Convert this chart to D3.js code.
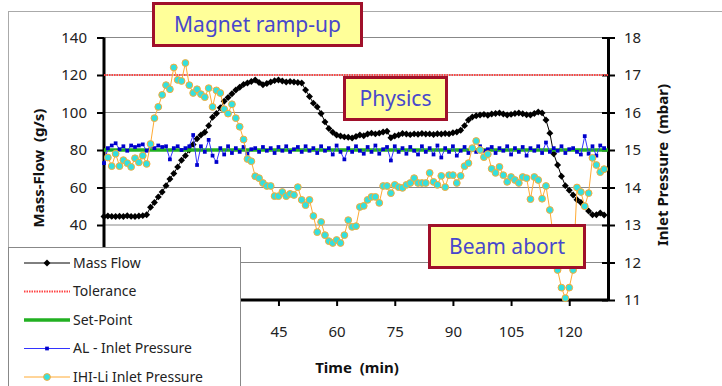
<!DOCTYPE html>
<html>
<head>
<meta charset="utf-8">
<script src="https://cdn.jsdelivr.net/npm/d3@7"></script>
<style>
  body { margin: 0; background: #fff; }
  text { font-family: "Comic Sans MS", "Noto Sans", sans-serif; }
</style>
</head>
<body>
<div class="canvas"></div>
<script>
// time in minutes (category axis)
const minutes = [0,1,2,3,4,5,6,7,8,9,10,11,12,13,14,15,16,17,18,19,20,21,22,23,24,25,26,27,28,29,
  30,31,32,33,34,35,36,37,38,39,40,41,42,43,44,45,46,47,48,49,50,51,52,53,54,55,56,57,58,59,
  60,61,62,63,64,65,66,67,68,69,70,71,72,73,74,75,76,77,78,79,80,81,82,83,84,85,86,87,88,89,
  90,91,92,93,94,95,96,97,98,99,100,101,102,103,104,105,106,107,108,109,110,111,112,113,114,115,116,117,118,119,
  120,121,122,123,124,125,126,127,128,129];

// Mass Flow (g/s) - left axis
const massFlow = [44.5,44.8,44.6,44.5,44.7,44.5,44.9,44.6,44.5,44.8,
  45.0,45.5,49.5,52,55,57.6,61,64.5,67.5,71,
  74.5,77,80,83,86,88,89.5,93,97.5,99.5,
  102.5,106,108,110,112,113.5,115,115.7,116.5,117.3,
  116,114.8,115.5,116.3,117,117.3,116.8,116.3,116.5,116.3,
  116,115.7,112,108.5,105,103,99.5,95,91.5,89.5,
  88,87.5,87,86.8,86.4,87.2,88,87.6,88.5,89,
  88.6,89,89.6,90,86.5,87.5,88,88.8,88.5,88.2,
  88.6,88.4,88.8,88.5,88.6,88.3,88.7,88.5,88.8,88.6,
  89.2,89.6,90.5,93,96,97.6,98.3,98.7,99,98.5,
  99.2,99.5,99.7,99.2,98.7,99,99.5,99.7,99.3,98.8,
  98.7,99.5,100.3,99.8,96,89,78,72,66,61,
  58.5,56,53.5,52,50,47.5,45.5,45.5,46.4,45.3];

// constant reference levels (g/s)
const tolerance = 120;
const setPoint = 80;

// AL - Inlet Pressure (mbar) - right axis
const alPressure = [14.65,15.05,15.12,15.18,15.02,15.1,14.98,15.12,15.08,15.12,
  15.15,14.98,15.1,15.05,15.12,15.08,15.1,14.75,15.05,15.1,
  15.0,15.05,15.1,15.4,14.6,15.1,14.95,15.27,14.85,14.68,
  15.05,14.88,15.1,14.92,15.05,14.95,15.08,14.9,15.02,15.05,
  14.95,15.08,14.98,15.05,14.92,15.08,14.98,15.1,14.95,15.02,
  15.08,14.95,15.1,14.98,15.05,14.92,15.1,14.98,15.05,14.88,
  15.12,14.95,14.75,15.05,14.95,15.1,14.98,14.9,15.08,14.95,
  15.12,14.9,15.02,15.08,14.72,15.1,14.95,15.05,14.9,15.08,
  14.98,14.88,15.1,14.95,15.05,14.88,15.12,14.8,15.05,14.95,
  15.1,14.85,14.98,15.08,14.92,15.05,14.95,15.1,14.98,15.02,
  15.08,14.92,15.05,14.98,15.1,14.88,15.05,14.95,15.08,14.85,
  15.05,14.98,15.1,14.92,15.2,14.95,15.05,14.98,15.1,14.92,
  15.02,15.05,14.95,14.88,15.37,14.9,15.1,14.85,15.12,15.05];

// IHI-Li Inlet Pressure (mbar) - right axis
const ihiPressure = [null,14.8,14.57,14.9,14.57,14.73,14.65,14.55,14.78,14.67,
  14.85,14.63,15.16,15.85,16.15,16.47,16.73,16.62,17.2,16.87,
  16.84,17.32,16.73,16.52,16.62,16.49,16.41,16.65,16.15,16.59,
  16.52,16.09,15.97,16.22,15.85,15.62,15.28,14.76,14.7,14.3,
  14.25,14.12,14.04,14.04,13.77,13.77,13.88,13.77,13.83,13.8,
  14.01,13.67,13.53,13.67,13.24,12.81,13.08,12.73,12.57,12.52,
  12.6,12.52,12.73,13.13,12.95,12.97,13.48,13.51,13.67,13.75,
  13.75,13.59,14.04,14.04,13.85,14.07,14.01,13.99,14.07,14.12,
  14.25,14.12,14.12,14.12,14.39,14.15,14.07,14.31,14.01,14.33,
  14.33,14.12,14.31,14.57,14.65,15.05,15.24,15.0,14.81,14.89,
  14.5,14.39,14.55,14.33,14.15,14.28,14.2,14.12,14.28,14.25,
  13.69,14.28,14.2,13.7,14.04,13.4,12.6,11.8,11.33,11.05,
  11.33,11.8,14.0,13.88,13.5,13.85,14.79,14.6,14.41,14.49];

// ticks that are not covered by the legend
const leftTicks = [40,60,80,100,120,140];
const gridTicks = [20,40,60,80,100,120,140];
const rightTicks = [11,12,13,14,15,16,17,18];
const timeTicks = [45,60,75,90,105,120];

const legendItems = ['Mass Flow','Tolerance','Set-Point','AL - Inlet Pressure','IHI-Li Inlet Pressure'];
const notes = [
  {text: 'Magnet ramp-up', x: 152, y: 2, w: 211, h: 45},
  {text: 'Physics', x: 343, y: 76, w: 105, h: 45},
  {text: 'Beam abort', x: 428, y: 224, w: 158, h: 45}
];

const svg = d3.select('.canvas')
  .append('svg')
    .attr('width', 722)
    .attr('height', 386);

svg.append('rect')
  .attr('width', 722).attr('height', 386).attr('fill', '#fff');

// outer chart area border
svg.append('rect')
  .attr('x', 8.5).attr('y', 11.5)
  .attr('width', 760).attr('height', 400)
  .attr('fill', 'none').attr('stroke', '#aaa');

const x = d3.scaleLinear().domain([0, 130]).range([104, 608]);
const yL = d3.scaleLinear().domain([0, 140]).range([300, 37.5]);
const yR = d3.scaleLinear().domain([11, 18]).range([300, 37.5]);

// gridlines
svg.append('g')
  .selectAll('line')
  .data(gridTicks)
  .enter().append('line')
    .attr('x1', x(0)).attr('x2', x(130))
    .attr('y1', d => yL(d)).attr('y2', d => yL(d))
    .attr('stroke', '#888').attr('stroke-width', 1);

// axes
const styleAxis = (g) => {
  g.select('.domain').attr('stroke', '#000').attr('stroke-width', 3);
  g.selectAll('.tick line').attr('stroke', '#000').attr('stroke-width', 2);
  g.selectAll('.tick text').attr('fill', '#222').attr('font-size', 15);
};

const yAxisGroup = svg.append('g')
  .attr('transform', `translate(${x(0)}, 0)`)
  .call(d3.axisLeft(yL).tickValues(leftTicks).tickSize(7).tickSizeOuter(0).tickPadding(10))
  .call(styleAxis);
yAxisGroup.select('.domain').attr('d', `M0,${yL(0)}V${yL(140)}`);

const yRAxisGroup = svg.append('g')
  .attr('transform', `translate(${x(130)}, 0)`)
  .call(d3.axisRight(yR).tickValues(rightTicks).tickFormat(d3.format('d')).tickSize(7).tickSizeOuter(0).tickPadding(9))
  .call(styleAxis);
yRAxisGroup.selectAll('.tick line').attr('x1', -6);

const xAxisGroup = svg.append('g')
  .attr('transform', `translate(0, ${yL(0)})`)
  .call(d3.axisBottom(x).tickValues(timeTicks).tickSize(6).tickSizeOuter(0).tickPadding(20))
  .call(styleAxis);
xAxisGroup.select('.domain').attr('d', `M${x(0)},0H${x(130)}`);

// axis titles
svg.append('text')
  .attr('transform', 'translate(44, 168) rotate(-90)')
  .attr('text-anchor', 'middle')
  .attr('font-size', 15).attr('font-weight', 'bold').attr('fill', '#111')
  .style('white-space', 'pre')
  .text('Mass-Flow  (g/s)');

svg.append('text')
  .attr('transform', 'translate(668, 165) rotate(-90)')
  .attr('text-anchor', 'middle')
  .attr('font-size', 15).attr('font-weight', 'bold').attr('fill', '#111')
  .style('white-space', 'pre')
  .text('Inlet Pressure  (mbar)');

svg.append('text')
  .attr('x', 357).attr('y', 373)
  .attr('text-anchor', 'middle')
  .attr('font-size', 15).attr('font-weight', 'bold').attr('fill', '#111')
  .style('white-space', 'pre')
  .text('Time  (min)');

// series
const massData = minutes.map((t, i) => ({t, v: massFlow[i]}));
const alData = minutes.map((t, i) => ({t, v: alPressure[i]}));
const ihiData = minutes.map((t, i) => ({t, v: ihiPressure[i]})).filter(d => d.v != null);

const lineL = d3.line().x(d => x(d.t)).y(d => yL(d.v));
const lineR = d3.line().x(d => x(d.t)).y(d => yR(d.v));

const diamond = d3.symbol(d3.symbolSquare, 24);
const square = d3.symbol(d3.symbolSquare, 14);

// mass flow
svg.append('path')
  .datum(massData)
  .attr('d', lineL)
  .attr('fill', 'none').attr('stroke', '#000').attr('stroke-width', 1);
svg.append('g')
  .selectAll('path')
  .data(massData)
  .enter().append('path')
    .attr('d', diamond)
    .attr('transform', d => `translate(${x(d.t)}, ${yL(d.v)}) rotate(45)`)
    .attr('fill', '#000');

// tolerance
svg.append('line')
  .attr('x1', x(0)).attr('x2', x(130))
  .attr('y1', yL(tolerance)).attr('y2', yL(tolerance))
  .attr('stroke', '#f44').attr('stroke-width', 2).attr('stroke-dasharray', '1.5,1');

// set-point
svg.append('line')
  .attr('x1', x(0)).attr('x2', x(130))
  .attr('y1', yL(setPoint)).attr('y2', yL(setPoint))
  .attr('stroke', '#22b022').attr('stroke-width', 3.5);

// AL inlet pressure
svg.append('path')
  .datum(alData)
  .attr('d', lineR)
  .attr('fill', 'none').attr('stroke', '#3333ff').attr('stroke-width', 1);
svg.append('g')
  .selectAll('path')
  .data(alData)
  .enter().append('path')
    .attr('d', square)
    .attr('transform', d => `translate(${x(d.t)}, ${yR(d.v)})`)
    .attr('fill', '#0000cc');

// IHI-Li inlet pressure
svg.append('path')
  .datum(ihiData)
  .attr('d', lineR)
  .attr('fill', 'none').attr('stroke', '#ffaa33').attr('stroke-width', 1);
svg.append('g')
  .selectAll('circle')
  .data(ihiData)
  .enter().append('circle')
    .attr('cx', d => x(d.t)).attr('cy', d => yR(d.v))
    .attr('r', 3.4)
    .attr('fill', '#33e0e0').attr('stroke', '#ffaa33').attr('stroke-width', 1);

// legend
const legend = svg.append('g');
legend.append('rect')
  .attr('x', 8.5).attr('y', 247.5)
  .attr('width', 232).attr('height', 160)
  .attr('fill', '#fff').attr('stroke', '#888');

const legendRow = legend.selectAll('g.row')
  .data(legendItems)
  .enter().append('g')
    .attr('class', 'row')
    .attr('transform', (d, i) => `translate(0, ${263 + i * 28.5})`);

legendRow.append('text')
  .attr('x', 73).attr('y', 0).attr('dy', '0.35em')
  .attr('font-size', 14).attr('fill', '#222')
  .text(d => d);

const sw = (i) => legendRow.filter((d, j) => j === i);
sw(0).append('line').attr('x1', 24).attr('x2', 70).attr('stroke', '#000').attr('stroke-width', 1);
sw(0).append('path').attr('d', diamond).attr('transform', 'translate(47,0) rotate(45)').attr('fill', '#000');
sw(1).append('line').attr('x1', 24).attr('x2', 70).attr('stroke', '#f44').attr('stroke-width', 2).attr('stroke-dasharray', '1.5,1');
sw(2).append('line').attr('x1', 24).attr('x2', 70).attr('stroke', '#22b022').attr('stroke-width', 3.5);
sw(3).append('line').attr('x1', 24).attr('x2', 70).attr('stroke', '#3333ff').attr('stroke-width', 1);
sw(3).append('path').attr('d', square).attr('transform', 'translate(47,0)').attr('fill', '#0000cc');
sw(4).append('line').attr('x1', 24).attr('x2', 70).attr('stroke', '#ffaa33').attr('stroke-width', 1);
sw(4).append('circle').attr('cx', 47).attr('r', 3.4).attr('fill', '#33e0e0').attr('stroke', '#ffaa33');

// annotation boxes
const note = svg.append('g').selectAll('g')
  .data(notes)
  .enter().append('g');
note.append('rect')
  .attr('x', d => d.x + 1.5).attr('y', d => d.y + 1.5)
  .attr('width', d => d.w - 3).attr('height', d => d.h - 3)
  .attr('fill', '#ffff99').attr('stroke', '#a0102a').attr('stroke-width', 3);
note.append('text')
  .attr('x', d => d.x + d.w / 2).attr('y', d => d.y + d.h / 2)
  .attr('dy', '0.35em')
  .attr('text-anchor', 'middle')
  .attr('font-size', 21).attr('fill', '#4848cc')
  .text(d => d.text);
</script>
</body>
</html>
